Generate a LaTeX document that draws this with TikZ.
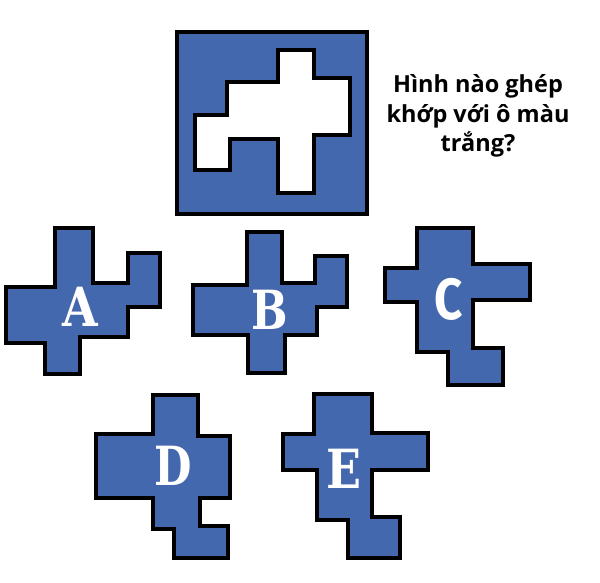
\documentclass[tikz,border=0pt]{standalone}
\usepackage{fontspec}
\setmainfont{Open Sans}
\newfontfamily\slabfont{DejaVu Serif}
\newfontfamily\capfont{Fira Sans}
\definecolor{pieceblue}{HTML}{4468AD}
\begin{document}
\begin{tikzpicture}[x=1pt,y=-1pt,
  piece/.style={fill=pieceblue,draw=black,line width=3.5pt,line join=miter},
  hole/.style={fill=white,draw=black,line width=3.5pt,line join=miter},
  letter/.style={text=white,font=\slabfont\bfseries\fontsize{54}{54}\selectfont,inner sep=0pt},
  sansletter/.style={text=white,font=\capfont\bfseries\fontsize{58}{58}\selectfont,inner sep=0pt}]
\useasboundingbox (0,0) rectangle (600,582);
% frame with hole
\draw[piece] (177,32) rectangle (367,214);
\draw[hole] (278,50) -- (314,50) -- (314,78) -- (350,78) -- (350,135) -- (314,135) -- (314,193) -- (278,193) -- (278,139) -- (230,139) -- (230,170) -- (195,170) -- (195,115) -- (227,115) -- (227,82) -- (278,82) -- cycle;
% question
\node[align=center,font=\bfseries\fontsize{23.5}{29.5}\selectfont] (q) at (478,116) {Hình nào ghép\\khớp với ô màu\\trắng?};
% A
\draw[piece] (55,228) -- (93,228) -- (93,283) -- (128,283) -- (128,253) -- (160,253) -- (160,307) -- (128,307) -- (128,337) -- (80,337) -- (80,374) -- (45,374) -- (45,343) -- (6,343) -- (6,287) -- (55,287) -- cycle;
\node[letter] (la) at (80,307) {\scalebox{0.85}[1]{A}};
% B
\draw[piece] (247,232) -- (282,232) -- (282,283) -- (315,283) -- (315,256) -- (347,256) -- (347,307) -- (317,307) -- (317,335) -- (285,335) -- (285,373) -- (248,373) -- (248,335) -- (193,335) -- (193,285) -- (247,285) -- cycle;
\node[letter] (lb) at (270,310) {\scalebox{0.8}[1]{B}};
% C
\draw[piece] (417,228) -- (473,228) -- (473,264) -- (530,264) -- (530,300) -- (473,300) -- (473,348) -- (503,348) -- (503,385) -- (448,385) -- (448,352) -- (417,352) -- (417,302) -- (385,302) -- (385,268) -- (417,268) -- cycle;
\node[sansletter] (lc) at (449,299) {\scalebox{0.85}[1]{C}};
% D
\draw[piece] (153,395) -- (198,395) -- (198,436) -- (230,436) -- (230,498) -- (200,498) -- (200,526) -- (228,526) -- (228,558) -- (174,558) -- (174,529) -- (153,529) -- (153,498) -- (96,498) -- (96,434) -- (153,434) -- cycle;
\node[letter] (ld) at (173,466) {\scalebox{0.8}[1]{D}};
% E
\draw[piece] (314,394) -- (372,394) -- (372,433) -- (428,433) -- (428,470) -- (372,470) -- (372,517) -- (400,517) -- (400,558) -- (348,558) -- (348,520) -- (317,520) -- (317,470) -- (283,470) -- (283,434) -- (314,434) -- cycle;
\node[letter] (le) at (344,469) {\scalebox{0.85}[1]{E}};
\end{tikzpicture}
\end{document}
